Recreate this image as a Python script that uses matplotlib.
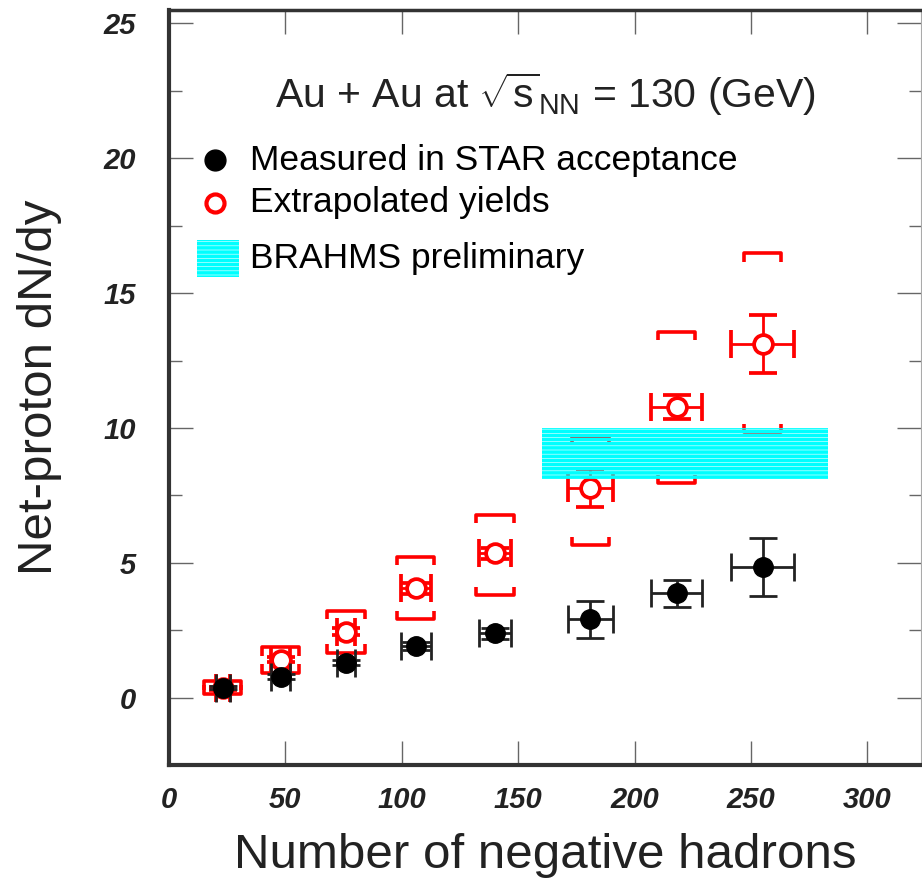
import matplotlib
matplotlib.use('Agg')
import matplotlib.pyplot as plt
import numpy as np
from matplotlib.patches import Rectangle

# number of negative hadrons (centrality bins)
n_neg = [23, 48, 76, 106, 140, 181, 218, 255]
n_neg_err = [3, 4, 4, 6.5, 7, 9.5, 11, 13.5]

# measured in STAR acceptance
measured = [0.37, 0.78, 1.30, 1.90, 2.38, 2.90, 3.87, 4.83]
measured_err = [0.05, 0.08, 0.10, 0.15, 0.20, 0.70, 0.50, 1.08]

# extrapolated yields + systematic range
extrap = [0.35, 1.41, 2.45, 4.05, 5.35, 7.77, 10.78, 13.12]
extrap_err = [0.05, 0.10, 0.12, 0.20, 0.20, 0.70, 0.45, 1.08]
sys_lo = [0.15, 0.93, 1.67, 2.90, 3.80, 5.65, 7.96, 9.85]
sys_hi = [0.60, 1.86, 3.20, 5.20, 6.77, 9.67, 13.57, 16.47]

# BRAHMS preliminary band
brahms_x = [160, 283]
brahms_lo = [8.1, 8.1]
brahms_hi = [10.0, 10.0]

plt.rcParams['font.family'] = ['Liberation Sans', 'DejaVu Sans']
plt.rcParams['mathtext.fontset'] = 'custom'
plt.rcParams['mathtext.rm'] = 'Liberation Sans'
plt.rcParams['mathtext.it'] = 'Liberation Sans'
plt.rcParams['hatch.linewidth'] = 2.6

fig = plt.figure(figsize=(9.22, 8.83), dpi=100)
ax = fig.add_axes([169 / 922, 118 / 883, 752 / 922, 755 / 883])

red = '#ff0000'
dark = '#222222'

# systematic brackets
w, t = 8, 0.3
for x, lo, hi in zip(n_neg, sys_lo, sys_hi):
    ax.plot([x - w, x - w, x + w, x + w], [hi - t, hi, hi, hi - t],
            color=red, lw=2.6, solid_capstyle='butt', zorder=2)
    ax.plot([x - w, x - w, x + w, x + w], [lo + t, lo, lo, lo + t],
            color=red, lw=2.6, solid_capstyle='butt', zorder=2)

ax.errorbar(n_neg, extrap, xerr=n_neg_err, yerr=extrap_err, fmt='o',
            color=red, mfc='white', mec=red, ms=13.5, mew=2.7,
            elinewidth=2, capsize=10, capthick=2, zorder=3)
ax.errorbar(n_neg, measured, xerr=n_neg_err, yerr=measured_err, fmt='o',
            color=dark, mfc='black', mec='black', ms=14,
            elinewidth=2, capsize=10, capthick=2, zorder=4)

ax.fill_between(brahms_x, brahms_lo, brahms_hi, facecolor='none',
                edgecolor='#00ffff', hatch='----', linewidth=0, zorder=5)

ax.set_xlim(0, 323)
ax.set_ylim(-2.5, 25.5)
ax.set_xticks(np.arange(0, 301, 50))
ax.set_yticks(np.arange(0, 26, 5))
ax.set_yticks(np.arange(-2.5, 25.5, 2.5), minor=True)

ax.tick_params(which='both', direction='in', top=True, right=True,
               color='#666666', width=1)
ax.tick_params(which='major', length=17, labelsize=21, pad=24)
ax.tick_params(axis='x', which='major', pad=15)
ax.tick_params(which='minor', length=9)
for lab in ax.get_xticklabels() + ax.get_yticklabels():
    lab.set_fontweight('bold')
    lab.set_fontstyle('italic')
    lab.set_color(dark)

for side in ['left', 'bottom']:
    ax.spines[side].set_linewidth(3)
    ax.spines[side].set_color('#333333')
ax.spines['top'].set_linewidth(2.5)
ax.spines['top'].set_color('#333333')
ax.spines['right'].set_linewidth(0.8)
ax.spines['right'].set_color('#aaaaaa')

ax.set_xlabel('Number of negative hadrons', fontsize=35.5, color=dark)
ax.xaxis.set_label_coords(0.5, -0.09)
ax.xaxis.label.set_va('top')
ax.set_ylabel('Net-proton dN/dy', fontsize=35.5, color=dark)
ax.yaxis.set_label_coords(-0.142, 0.5)

# title and legend
ax.text(0.5, 0.870, r'Au + Au at $\sqrt{\mathrm{s}}_{\mathrm{NN}}$ = 130 (GeV)',
        transform=ax.transAxes, ha='center', va='baseline', fontsize=29.5,
        color=dark)
ax.plot([0.0612], [0.801], 'o', color='black', ms=15, transform=ax.transAxes,
        clip_on=False)
ax.plot([0.0612], [0.745], 'o', mfc='white', mec=red, ms=13, mew=3,
        transform=ax.transAxes, clip_on=False)
ax.add_patch(Rectangle((0.0372, 0.647), 0.056, 0.049, transform=ax.transAxes,
                       facecolor='none', edgecolor='#00ffff', hatch='----',
                       linewidth=0))
ax.text(0.1077, 0.801, 'Measured in STAR acceptance', transform=ax.transAxes,
        ha='left', va='center', fontsize=25.5, color='black')
ax.text(0.1077, 0.745, 'Extrapolated yields', transform=ax.transAxes,
        ha='left', va='center', fontsize=25.5, color='black')
ax.text(0.1077, 0.671, 'BRAHMS preliminary', transform=ax.transAxes,
        ha='left', va='center', fontsize=25.5, color='black')

fig.savefig('out.png', dpi=100)
plt.close(fig)
